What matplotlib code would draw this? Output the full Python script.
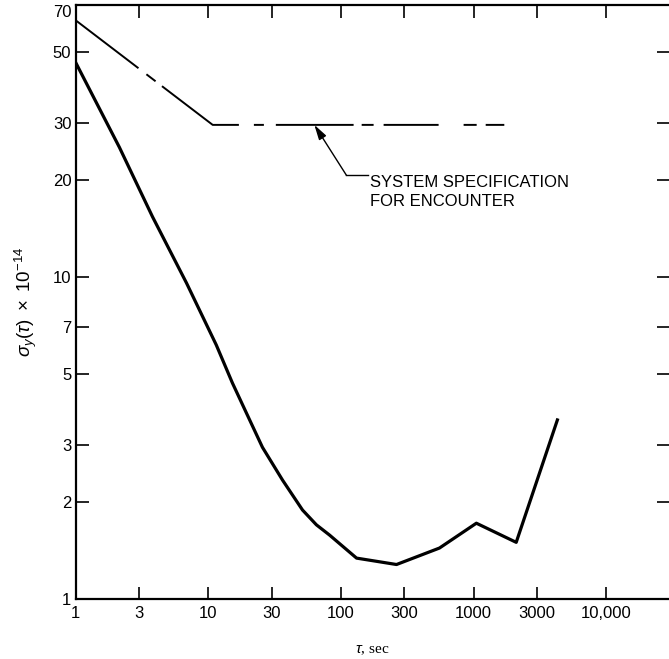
import matplotlib
matplotlib.use('Agg')
import matplotlib.pyplot as plt

plt.rcParams['font.family'] = ['Liberation Sans', 'DejaVu Sans']
plt.rcParams['mathtext.fontset'] = 'custom'
plt.rcParams['mathtext.rm'] = 'Liberation Sans'
plt.rcParams['mathtext.it'] = 'Liberation Sans:italic'
plt.rcParams['lines.scale_dashes'] = False

# measured stability curve
tau = [1, 2.14, 3.8, 6.86, 11.5, 15.2, 19.4, 25.6, 36.3, 51.3, 65.3, 82, 131,
       262, 552, 1047, 2090, 4270]
sigma = [46.5, 25.3, 15.4, 9.58, 6.15, 4.69, 3.78, 2.96, 2.34, 1.89, 1.70, 1.58, 1.34,
         1.28, 1.44, 1.72, 1.50, 3.60]

# system specification (dashed)
spec_tau = [1, 10.8, 1700]
spec_sigma = [62.8, 29.7, 29.7]

xticks = [1, 3, 10, 30, 100, 300, 1000, 3000, 10000]
xticklabels = ['1', '3', '10', '30', '100', '300', '1000', '3000', '10,000']
yticks = [1, 2, 3, 5, 7, 10, 20, 30, 50, 70]
yticklabels = ['1', '2', '3', '5', '7', '10', '20', '30', '50', '70']

# annotation anchor points (data coords)
arrow_tip = (63, 29.7)
arrow_elbow = (110, 20.7)
label_x = 165

fig = plt.figure(figsize=(6.69, 6.59), dpi=100)
ax = fig.add_axes([0.1129, 0.0910, 1.0 - 0.1129, 0.9924 - 0.0910])

ax.plot(tau, sigma, color='black', lw=2.3, solid_joinstyle='round')
ax.plot(spec_tau, spec_sigma, color='black', lw=1.4, dash_capstyle='butt',
        linestyle=(0, (57, 7.2, 8.3, 5.8, 64.8, 10.8, 7.2, 8.6, 56, 5.8, 8.6, 7.2,
                       39.6, 18, 9.4, 6.5, 40, 10)))

ax.annotate('', xy=arrow_tip, xytext=arrow_elbow,
            arrowprops=dict(arrowstyle='-|>,head_length=0.9,head_width=0.25',
                            color='black', lw=1.0, shrinkA=0, shrinkB=0))
ax.plot([arrow_elbow[0], label_x * 0.97], [arrow_elbow[1], arrow_elbow[1]],
        color='black', lw=1.0)
ax.text(label_x, arrow_elbow[1], 'SYSTEM SPECIFICATION\nFOR ENCOUNTER',
        fontsize=12, va='top', ha='left', linespacing=1.3,
        transform=ax.transData)

ax.set_xscale('log')
ax.set_yscale('log')
ax.set_xlim(1, 2.96e4)
ax.set_ylim(1, 70)
ax.set_xticks(xticks)
ax.set_xticklabels(xticklabels)
ax.set_yticks(yticks)
ax.set_yticklabels(yticklabels)
ax.minorticks_off()

ax.tick_params(direction='in', length=9, width=1.2, labelsize=12,
               top=True, right=True, pad=5)
ax.tick_params(axis='y', pad=3)
ax.get_yticklabels()[-1].set_va('top')

for side in ['left', 'bottom', 'top']:
    ax.spines[side].set_linewidth(1.6)
ax.spines['right'].set_visible(False)

ax.set_ylabel(r'$\sigma_y(\tau)\ \times\ 10^{-14}$', fontsize=13.5, labelpad=10)
ax.set_xlabel(r'$\tau$, sec', fontsize=11, labelpad=16, family=['Liberation Serif'])

fig.savefig('out.png', dpi=100)
